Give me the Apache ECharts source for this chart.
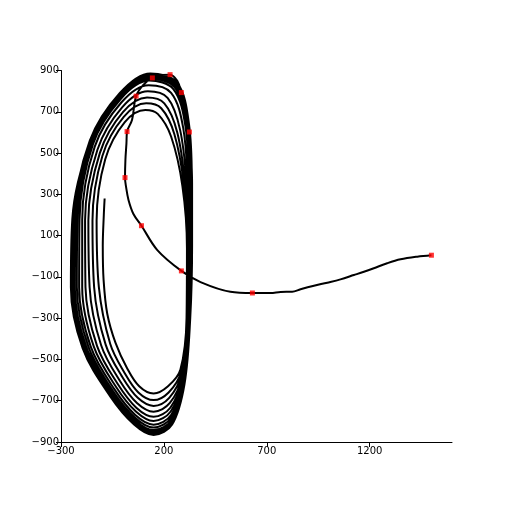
<!DOCTYPE html>
<html><head><meta charset="utf-8">
<script src="https://cdn.jsdelivr.net/npm/echarts@6/dist/echarts.min.js"></script>
<style>html,body{margin:0;padding:0;background:#fff}#c{width:512px;height:512px}</style>
</head><body><div id="c"></div>
<script>
const xTicks = [-300, 200, 700, 1200];
const yTicks = [-900, -700, -500, -300, -100, 100, 300, 500, 700, 900];

const markers = [[1500,5],[630,-178],[285,-71],[91,148],[11,381],[21,604],[65,776],[144,864],[230,880],[285,793],[324,602]];

const transient = [[1500,5],[1431,-2],[1350,-15],[1285,-34],[1220,-58],[1172,-75],[1123,-91],[1058,-112],[994,-128],[929,-143],[864,-160],[823,-172],[767,-173],[718,-178],[630,-178],[523,-172],[378,-125],[285,-71],[168,30],[91,148],[52,205],[28,273],[16,337],[11,381],[13,466],[18,547],[21,604],[45,660],[65,776],[100,830],[144,864],[190,878],[230,880],[265,850],[285,793],[310,700],[324,602]];

const loop1 = [[337,350],[337,50],[328,-300],[300,-620],[240,-815],[150,-866],[55,-815],[-60,-680],[-195,-445],[-252,-150],[-245,180],[-156,556],[-14,783],[133,877],[260,833],[318,637]];
const loop2 = [[335,350],[336,50],[327,-300],[299,-617],[239,-806],[150,-856],[56,-806],[-56,-673],[-187,-444],[-244,-150],[-238,180],[-160,560],[-15,790],[134,886],[265,840],[322,640]];
const loop3 = [[336,350],[337,50],[328,-300],[300,-619],[240,-811],[150,-862],[56,-811],[-58,-677],[-192,-445],[-249,-150],[-242,180],[-158,557],[-14,786],[133,881],[262,836],[319,638]];
const loop4 = [[331,349],[334,49],[326,-300],[298,-612],[238,-793],[150,-842],[58,-793],[-50,-663],[-176,-442],[-233,-150],[-228,179],[-155,554],[-13,780],[132,874],[258,830],[316,636]];
const loop5 = [[333,349],[335,49],[327,-300],[298,-614],[238,-800],[150,-850],[57,-800],[-54,-669],[-182,-443],[-239,-150],[-234,179],[-153,551],[-13,776],[132,868],[256,825],[313,634]];
const loop6 = [[329,348],[333,48],[325,-300],[296,-607],[236,-782],[150,-830],[60,-782],[-46,-655],[-166,-440],[-223,-150],[-220,178],[-150,547],[-12,770],[131,861],[252,819],[310,632]];
const loop7 = [[325,348],[331,48],[324,-300],[295,-603],[235,-769],[150,-816],[61,-769],[-40,-645],[-155,-439],[-212,-150],[-210,178],[-145,542],[-10,762],[129,851],[246,810],[305,628]];
const loop8 = [[321,347],[329,47],[322,-300],[293,-596],[233,-752],[150,-798],[64,-752],[-33,-632],[-141,-437],[-197,-150],[-197,177],[-136,531],[-7,745],[126,829],[235,792],[294,621]];
const loop9 = [[316,346],[326,46],[320,-300],[291,-589],[231,-734],[150,-778],[66,-734],[-25,-618],[-125,-434],[-181,-150],[-183,176],[-123,516],[-3,721],[122,799],[218,767],[279,611]];
const loop10 = [[311,344],[323,44],[318,-300],[289,-581],[229,-711],[150,-753],[69,-711],[-15,-602],[-105,-431],[-161,-150],[-167,174],[-111,501],[1,698],[118,769],[202,741],[265,600]];
const loop11 = [[304,343],[320,43],[315,-300],[286,-571],[226,-686],[150,-725],[73,-686],[-4,-582],[-83,-428],[-139,-150],[-147,173],[-99,486],[5,675],[114,741],[187,717],[251,591]];
const loop12 = [[298,342],[316,42],[313,-300],[283,-561],[223,-660],[150,-697],[76,-660],[7,-562],[-61,-424],[-116,-150],[-127,172],[-85,470],[10,650],[110,709],[170,690],[235,580]];
const finalArc = [[290,340],[312,40],[310,-300],[280,-550],[220,-630],[150,-665],[80,-630],[20,-540],[-35,-420],[-75,-280],[-93,-115],[-97,50],[-92,200],[-88,280]];

const path = [].concat(transient, loop1, loop2, loop3, loop4, loop5, loop6, loop7, loop8, loop9, loop10, loop11, loop12, finalArc);

const fmt = v => String(v).replace('-', '\u2212');
const labelStyle = {color: '#000', fontFamily: 'DejaVu Sans', fontSize: 10, formatter: fmt};

const chart = echarts.init(document.getElementById('c'), null, {renderer: 'canvas'});
chart.setOption({
  animation: false,
  backgroundColor: '#fff',
  grid: {left: 61, right: 60, top: 70.5, bottom: 70, containLabel: false},
  xAxis: {
    type: 'value', min: -300, max: 1600,
    axisLine: {show: true, onZero: false, lineStyle: {color: '#000', width: 1}},
    axisTick: {show: true, length: 5, lineStyle: {color: '#000'}, customValues: xTicks},
    axisLabel: Object.assign({margin: 4, customValues: xTicks}, labelStyle),
    splitLine: {show: false}
  },
  yAxis: {
    type: 'value', min: -900, max: 900,
    axisLine: {show: true, onZero: false, lineStyle: {color: '#000', width: 1}},
    axisTick: {show: true, length: 5, lineStyle: {color: '#000'}, customValues: yTicks},
    axisLabel: Object.assign({margin: 2, customValues: yTicks}, labelStyle),
    splitLine: {show: false}
  },
  series: [
    {type: 'line', data: path, smooth: 0.35, showSymbol: false, symbol: 'none',
     lineStyle: {color: '#000', width: 2}, z: 2},
    {type: 'scatter', data: markers, symbol: 'rect', symbolSize: 5,
     itemStyle: {color: '#ff0000'}, z: 3}
  ]
});
</script></body></html>
